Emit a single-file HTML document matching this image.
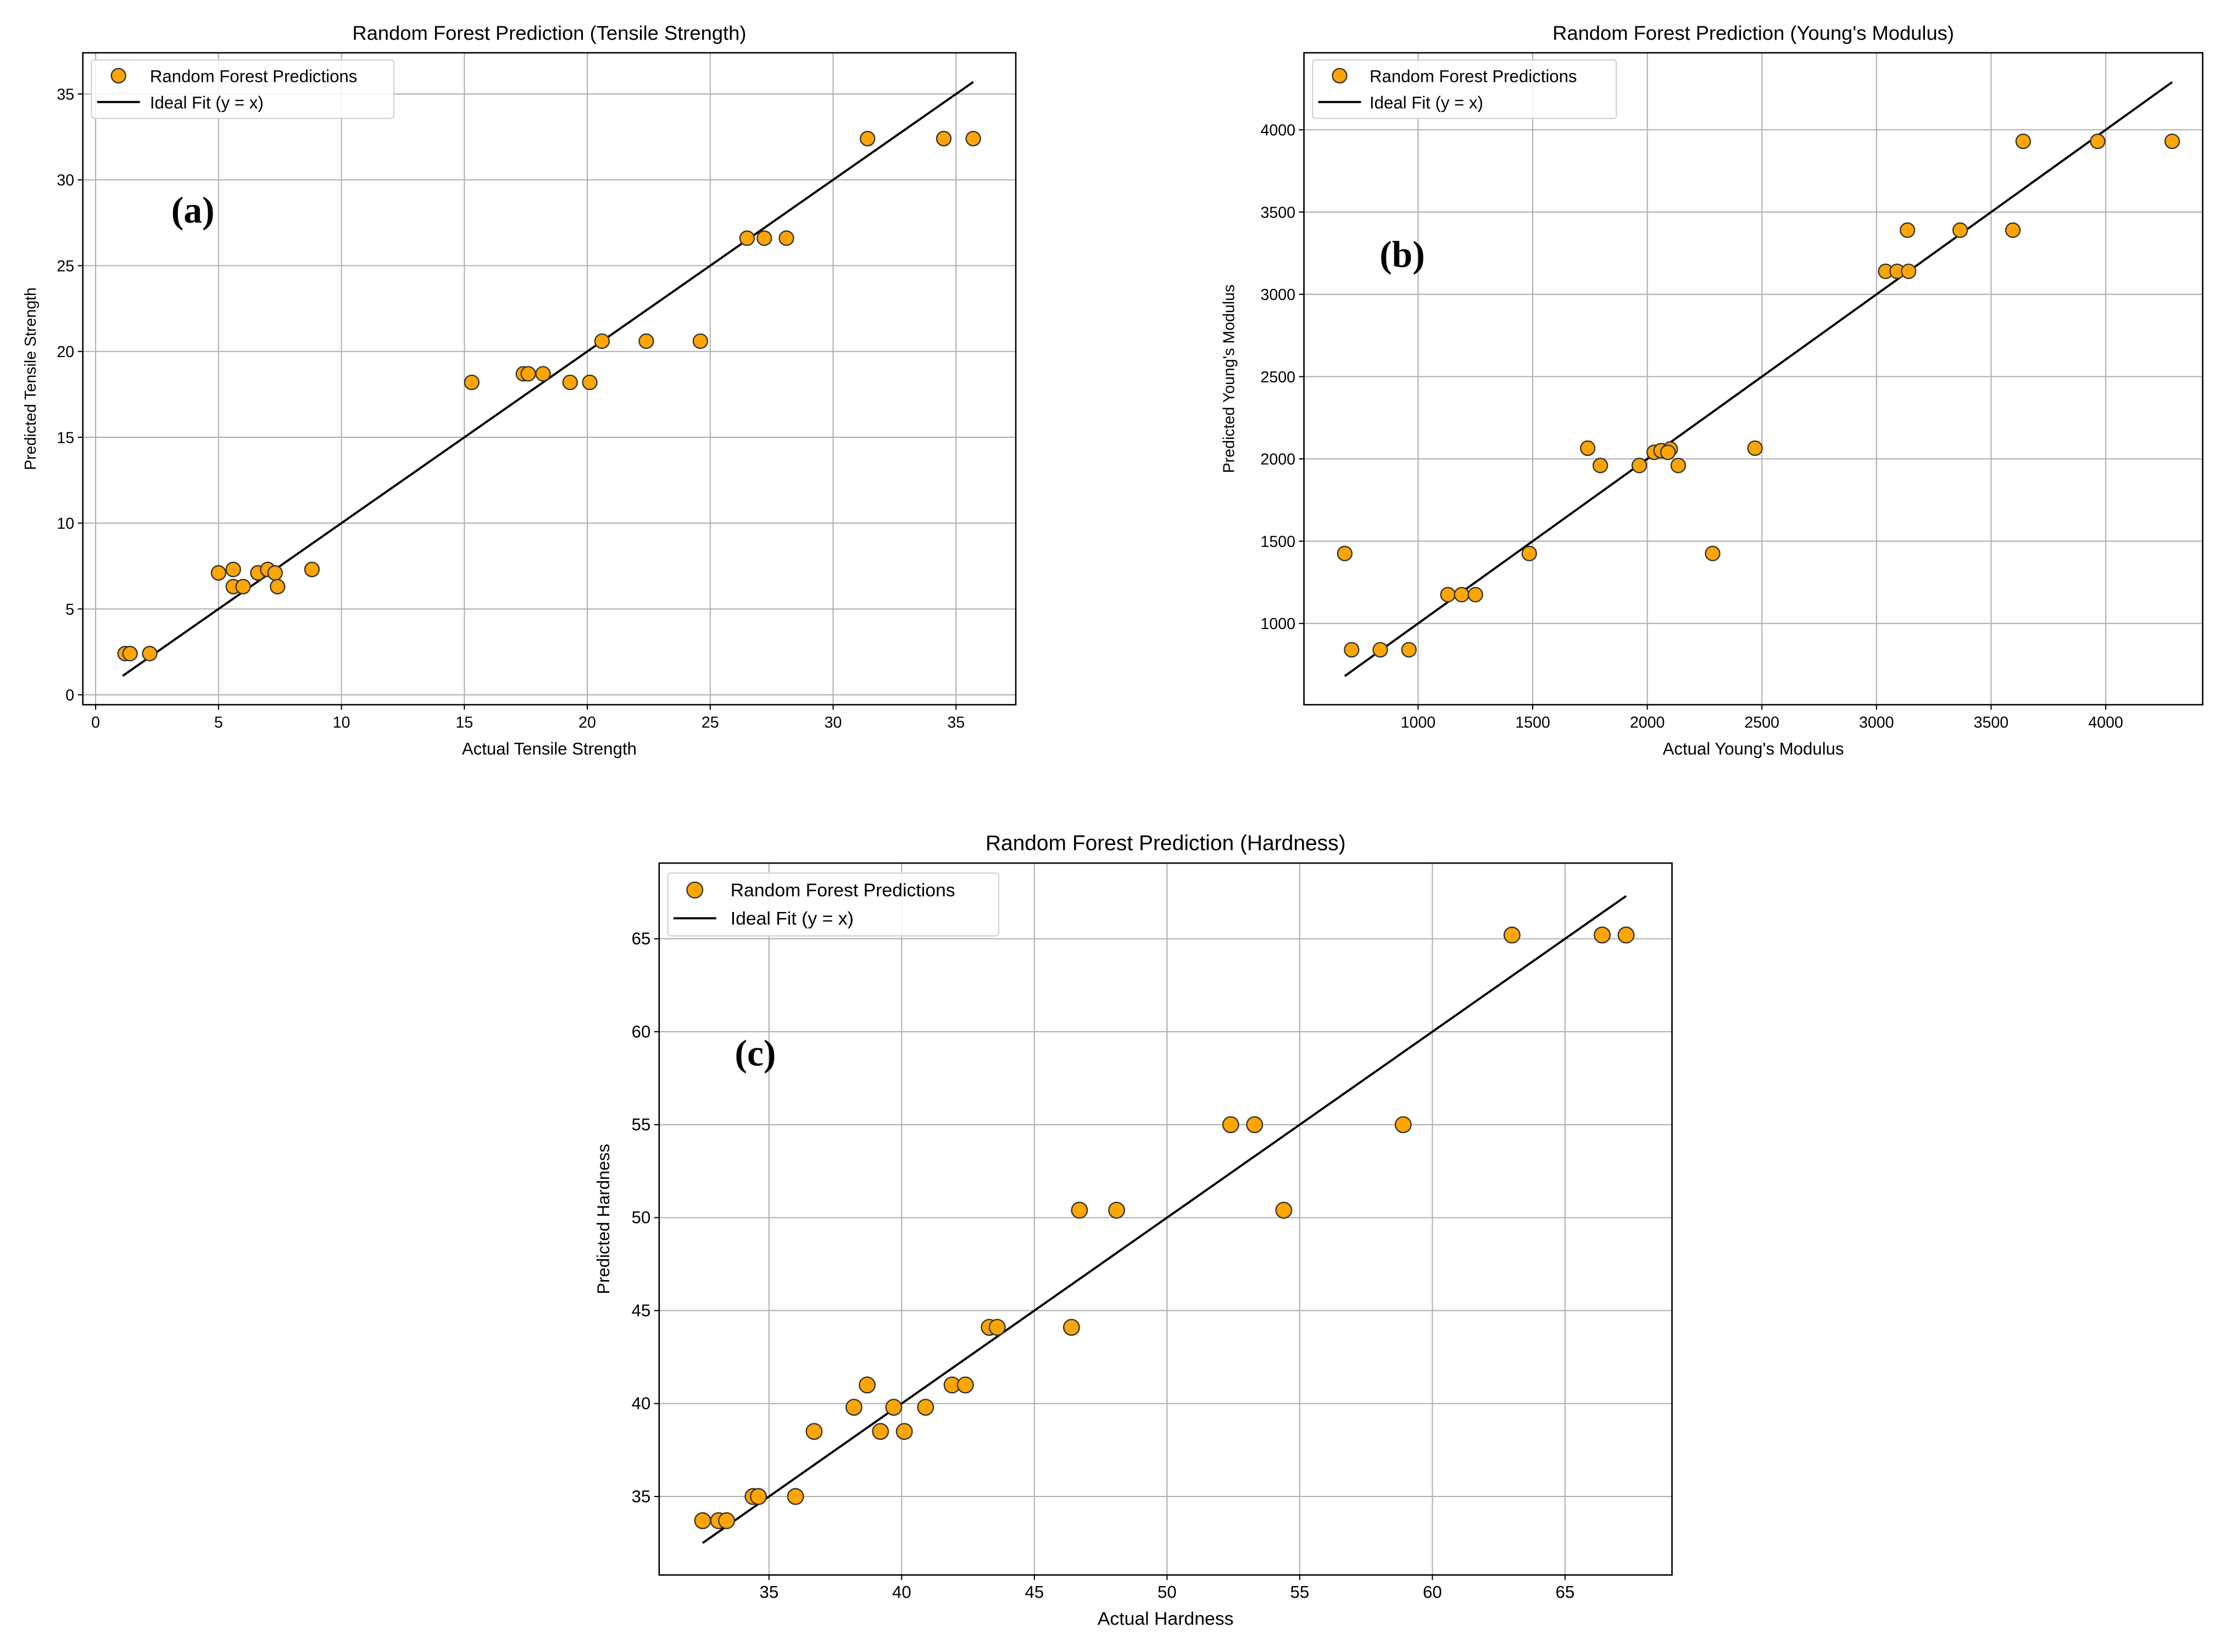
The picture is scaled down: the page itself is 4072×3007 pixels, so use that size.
<!DOCTYPE html>
<html><head><meta charset="utf-8"><style>
html,body{margin:0;padding:0;background:#fff;}
svg{display:block;}
text{font-family:"Liberation Sans","DejaVu Sans",sans-serif;fill:#000;}
</style></head><body>
<svg id="fig" width="4072" height="3007" viewBox="0 0 1568 1158" xmlns="http://www.w3.org/2000/svg"></svg>
<script>
// ---- Chart (a): Tensile Strength ----
const tsActual = [1.2,1.4,2.2,5.0,5.6,5.6,6.0,6.6,7.0,7.3,7.4,8.8,15.3,17.4,17.6,18.2,19.3,20.1,20.6,22.4,24.6,26.5,27.2,28.1,31.4,34.5,35.7];
const tsPred   = [2.4,2.4,2.4,7.1,7.3,6.3,6.3,7.1,7.3,7.1,6.3,7.3,18.2,18.7,18.7,18.7,18.2,18.2,20.6,20.6,20.6,26.6,26.6,26.6,32.4,32.4,32.4];
const tsXTicks = [0,5,10,15,20,25,30,35];
const tsYTicks = [0,5,10,15,20,25,30,35];
const tsIdeal  = [1.1,35.7];
// ---- Chart (b): Young's Modulus ----
const ymActual = [680,710,835,960,1130,1190,1250,1485,1740,1795,1965,2030,2060,2100,2090,2135,2285,2470,3040,3090,3140,3135,3365,3595,3640,3965,4290];
const ymPred   = [1425,840,840,840,1175,1175,1175,1425,2065,1960,1960,2040,2050,2060,2040,1960,1425,2065,3140,3140,3140,3390,3390,3390,3930,3930,3930];
const ymXTicks = [1000,1500,2000,2500,3000,3500,4000];
const ymYTicks = [1000,1500,2000,2500,3000,3500,4000];
const ymIdeal  = [680,4290];
// ---- Chart (c): Hardness ----
const hdActual = [32.5,33.1,33.4,34.4,34.6,36.0,36.7,38.2,38.7,39.2,39.7,40.1,40.9,41.9,42.4,43.3,43.6,46.4,46.7,48.1,52.4,53.3,54.4,58.9,63.0,66.4,67.3];
const hdPred   = [33.7,33.7,33.7,35,35,35,38.5,39.8,41,38.5,39.8,38.5,39.8,41,41,44.1,44.1,44.1,50.4,50.4,55,55,50.4,55,65.2,65.2,65.2];
const hdXTicks = [35,40,45,50,55,60,65];
const hdYTicks = [35,40,45,50,55,60,65];
const hdIdeal  = [32.5,67.3];

const NS = 'http://www.w3.org/2000/svg';
const fig = document.getElementById('fig');
function mk(tag, attrs, parent){
  const e = document.createElementNS(NS, tag);
  for (const k in attrs) e.setAttribute(k, attrs[k]);
  (parent||fig).appendChild(e);
  return e;
}

function chart(cfg){
  const g = mk('g', {});
  
  
  const L=cfg.box[0], R=cfg.box[1], T=cfg.box[2], B=cfg.box[3];
  const sx = v => L + (v - cfg.xlim[0]) / (cfg.xlim[1] - cfg.xlim[0]) * (R - L);
  const sy = v => B - (v - cfg.ylim[0]) / (cfg.ylim[1] - cfg.ylim[0]) * (B - T);
  cfg.xticks.forEach(t => {
    const x = sx(t);
    const gl = mk('line', {x1:x, x2:x, y1:T, y2:B, stroke:'#b0b0b0', 'stroke-width':0.8}, g);
    
    
    mk('line', {x1:x, x2:x, y1:B, y2:B+3.5, stroke:'#000', 'stroke-width':0.8}, g);
    const tl = mk('text', {x:x, y:B+16, 'text-anchor':'middle', 'font-size':cfg.fs}, g);
    tl.textContent = t;
    
    
  });
  cfg.yticks.forEach(t => {
    const y = sy(t);
    const gl = mk('line', {x1:L, x2:R, y1:y, y2:y, stroke:'#b0b0b0', 'stroke-width':0.8}, g);
    
    
    mk('line', {x1:L-3.5, x2:L, y1:y, y2:y, stroke:'#000', 'stroke-width':0.8}, g);
    const tl = mk('text', {x:L-6, y:y+4, 'text-anchor':'end', 'font-size':cfg.fs}, g);
    tl.textContent = t;
    
    
  });
  const il = mk('line', {x1:sx(cfg.ideal[0]), y1:sy(cfg.ideal[0]), x2:sx(cfg.ideal[1]), y2:sy(cfg.ideal[1]), stroke:'#000', 'stroke-width':1.5}, g);
  
  
  cfg.xs.forEach((v, i) => {
    const c = mk('circle', {cx:sx(v), cy:sy(cfg.ys[i]), r:cfg.r, fill:'#ffa500', stroke:'#333', 'stroke-width':0.9}, g);
    
    
  });
  const fr = mk('rect', {x:L, y:T, width:R-L, height:B-T, fill:'none', stroke:'#000', 'stroke-width':1}, g);
  
  
  const ti = mk('text', {x:(L+R)/2, y:T-9, 'text-anchor':'middle', 'font-size':cfg.fs+3}, g);
  ti.textContent = cfg.title;
  
  
  const xl = mk('text', {x:(L+R)/2, y:B+35, 'text-anchor':'middle', 'font-size':cfg.fs+1}, g);
  xl.textContent = cfg.xlabel;
  
  
  const yx = cfg.ylabelX, yy = (T+B)/2;
  const yl = mk('text', {x:yx, y:yy, 'text-anchor':'middle', 'font-size':cfg.fs, transform:'rotate(-90 '+yx+' '+yy+')'}, g);
  yl.textContent = cfg.ylabel;
  
  
  const lg = mk('g', {}, g);
  
  
  const lb = cfg.legend;
  mk('rect', {x:lb[0], y:lb[1], width:lb[2], height:lb[3], rx:2, fill:'#fff', 'fill-opacity':0.85, stroke:'#d0d0d0', 'stroke-width':0.8}, lg);
  const h = lb[3];
  mk('circle', {cx:lb[0]+19, cy:lb[1]+h*0.27, r:cfg.r, fill:'#ffa500', stroke:'#333', 'stroke-width':0.9}, lg);
  const t1 = mk('text', {x:lb[0]+lb[4], y:lb[1]+h*0.27+4.5, 'font-size':cfg.fs+1}, lg);
  t1.textContent = 'Random Forest Predictions';
  
  
  mk('line', {x1:lb[0]+4, x2:lb[0]+34, y1:lb[1]+h*0.72, y2:lb[1]+h*0.72, stroke:'#000', 'stroke-width':1.5}, lg);
  const t2 = mk('text', {x:lb[0]+lb[4], y:lb[1]+h*0.72+4.5, 'font-size':cfg.fs+1}, lg);
  t2.textContent = 'Ideal Fit (y = x)';
  
  
  const pl = mk('text', {x:cfg.panel[0], y:cfg.panel[1], 'font-size':26, 'font-weight':'bold', style:'font-family:"Liberation Serif",serif'}, g);
  pl.textContent = cfg.panel[2];
  
  
}

chart({name:'tensile-strength-chart', box:[58,712,37,494], xlim:[-0.52,37.43], ylim:[-0.58,37.4],
  xticks:tsXTicks, yticks:tsYTicks, xs:tsActual, ys:tsPred, ideal:tsIdeal, fs:11, r:5,
  title:'Random Forest Prediction (Tensile Strength)', xlabel:'Actual Tensile Strength', ylabel:'Predicted Tensile Strength',
  ylabelX:25, legend:[64,42,212,41,41], panel:[120,156,'(a)']});
chart({name:'youngs-modulus-chart', box:[914,1544,37,494], xlim:[502,4423], ylim:[506,4468],
  xticks:ymXTicks, yticks:ymYTicks, xs:ymActual, ys:ymPred, ideal:ymIdeal, fs:11, r:5,
  title:"Random Forest Prediction (Young's Modulus)", xlabel:"Actual Young's Modulus", ylabel:"Predicted Young's Modulus",
  ylabelX:865, legend:[920,42,213,41,40], panel:[967,187,'(b)']});
chart({name:'hardness-chart', box:[462,1172,605,1104], xlim:[30.86,69.03], ylim:[30.78,69.07],
  xticks:hdXTicks, yticks:hdYTicks, xs:hdActual, ys:hdPred, ideal:hdIdeal, fs:12, r:5.5,
  title:'Random Forest Prediction (Hardness)', xlabel:'Actual Hardness', ylabel:'Predicted Hardness',
  ylabelX:427, legend:[468,612,232,44,44], panel:[515,747,'(c)']});
</script>
</body></html>
